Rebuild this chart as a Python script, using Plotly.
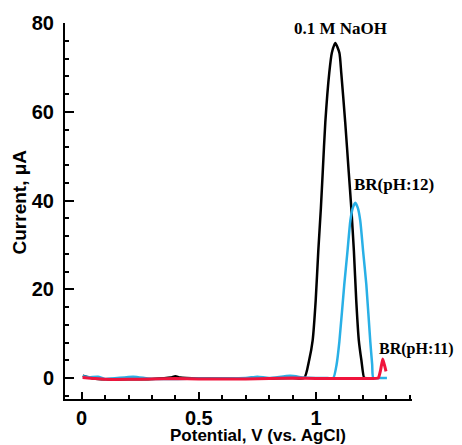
import plotly.graph_objects as go

# Black: 0.1 M NaOH
naoh_x = [0.005, 0.02, 0.05, 0.10, 0.20, 0.30, 0.38, 0.40, 0.42, 0.50, 0.60, 0.70, 0.80, 0.90, 0.950,
          0.971, 0.986, 0.999, 1.010, 1.021, 1.029, 1.040, 1.057, 1.068, 1.0825,
          1.100, 1.108, 1.125, 1.140, 1.151, 1.162, 1.172, 1.183, 1.194, 1.206, 1.215]
naoh_y = [0.5, 0.3, -0.1, -0.3, -0.3, -0.2, 0.1, 0.4, 0.1, -0.1, -0.1, -0.1, -0.1, 0.0, 0.0,
          4.0, 8.5, 17.5, 28.6, 38.2, 46.4, 57.6, 68.8, 73.3, 75.5,
          73.3, 68.8, 57.6, 46.4, 38.2, 28.6, 17.5, 8.5, 4.0, 0.0, 0.0]

# Cyan: BR(pH:12)
br12_x = [0.005, 0.03, 0.07, 0.10, 0.22, 0.30, 0.50, 0.70, 0.75, 0.80, 0.89, 0.95, 1.00, 1.05, 1.074,
          1.088, 1.100, 1.121, 1.134, 1.147, 1.157, 1.168, 1.179, 1.189, 1.202, 1.215, 1.232, 1.240, 1.245,
          1.27, 1.303]
br12_y = [0.4, 0.2, 0.3, -0.2, 0.3, -0.2, -0.1, 0.0, 0.3, 0.0, 0.5, 0.1, 0.0, 0.0, 0.0,
          3.0, 8.2, 21.1, 28.2, 35.5, 38.3, 39.5, 38.3, 35.5, 28.2, 21.1, 8.2, 3.0, 0.0,
          0.0, 0.0]

# Red: BR(pH:11)
br11_x = [0.004, 0.05, 0.10, 0.20, 0.30, 0.40, 0.50, 0.60, 0.70, 0.80, 0.90, 1.00, 1.10, 1.20, 1.266,
          1.276, 1.285, 1.292, 1.299]
br11_y = [0.1, -0.1, -0.3, -0.3, -0.2, -0.1, -0.2, -0.2, -0.2, -0.1, 0.0, -0.1, -0.1, -0.1, 0.0,
          1.8, 4.3, 3.0, 1.5]

x_ticks = [0, 0.5, 1]
x_tick_text = ["0", "0.5", "1"]
y_ticks = [0, 20, 40, 60, 80]
y_tick_text = ["0", "20", "40", "60", "80"]

W, H = 454, 437  # page body adds an 8px margin

fig = go.Figure()
fig.add_trace(go.Scatter(x=naoh_x, y=naoh_y, mode="lines", line=dict(color="#000000", width=2.5, shape="spline", smoothing=0.6)))
fig.add_trace(go.Scatter(x=br12_x, y=br12_y, mode="lines", line=dict(color="#29b0e6", width=2.5, shape="spline", smoothing=0.6)))
fig.add_trace(go.Scatter(x=br11_x, y=br11_y, mode="lines", line=dict(color="#f0143c", width=3, shape="spline", smoothing=0.4)))

tickfont = dict(family="Liberation Sans, Arial, sans-serif", size=20, color="black", weight="bold")
serif = dict(family="Liberation Serif, Times New Roman, serif", size=17, color="black", weight="bold")
serif_small = dict(family="Liberation Serif, Times New Roman, serif", size=16, color="black", weight="bold")
titlefont = dict(family="Liberation Sans, Arial, sans-serif", size=19, color="black", weight="bold")
xtitlefont = dict(family="Liberation Sans, Arial, sans-serif", size=17, color="black", weight="bold")

fig.update_layout(
    width=W, height=H,
    margin=dict(l=57, r=50, t=15, b=46),
    plot_bgcolor="white", paper_bgcolor="white",
    showlegend=False,
    xaxis=dict(range=[-0.071, 1.41], tickvals=x_ticks, ticktext=x_tick_text, showgrid=False, zeroline=False,
               showline=True, linecolor="black", linewidth=2, ticks="inside", ticklen=7, tickwidth=1.5,
               tickcolor="black", tickfont=tickfont, ticklabelstandoff=0, automargin=False,
               minor=dict(dtick=0.1, tick0=0, ticks="inside", ticklen=4, tickwidth=1.5, tickcolor="black", showgrid=False)),
    yaxis=dict(range=[-4.73, 80], tickvals=y_ticks, ticktext=y_tick_text, showgrid=False, zeroline=False,
               showline=True, linecolor="black", linewidth=2, ticks="inside", ticklen=9, tickwidth=1.5,
               tickcolor="black", tickfont=tickfont, ticklabelstandoff=5, automargin=False,
               minor=dict(dtick=4, tick0=0, ticks="inside", ticklen=4, tickwidth=1.5, tickcolor="black", showgrid=False)),
    annotations=[
        dict(text="0.1 M NaOH", x=1.104, y=78.8, xref="x", yref="y", showarrow=False, font=serif),
        dict(text="BR(pH:12)", x=1.335, y=43.7, xref="x", yref="y", showarrow=False, font=serif),
        dict(text="BR(pH:11)", x=1.262, y=6.5, xref="x", yref="y", xanchor="left", showarrow=False, font=serif_small),
        dict(text="Potential, V (vs. AgCl)", x=0.5548, y=-0.0984, xref="paper", yref="paper",
             showarrow=False, font=xtitlefont, xanchor="center", yanchor="middle"),
        dict(text="Current, μA", x=-0.1311, y=0.524, xref="paper", yref="paper", textangle=-90,
             showarrow=False, font=titlefont, xanchor="center", yanchor="middle"),
    ],
)
fig.write_html("out.html")
